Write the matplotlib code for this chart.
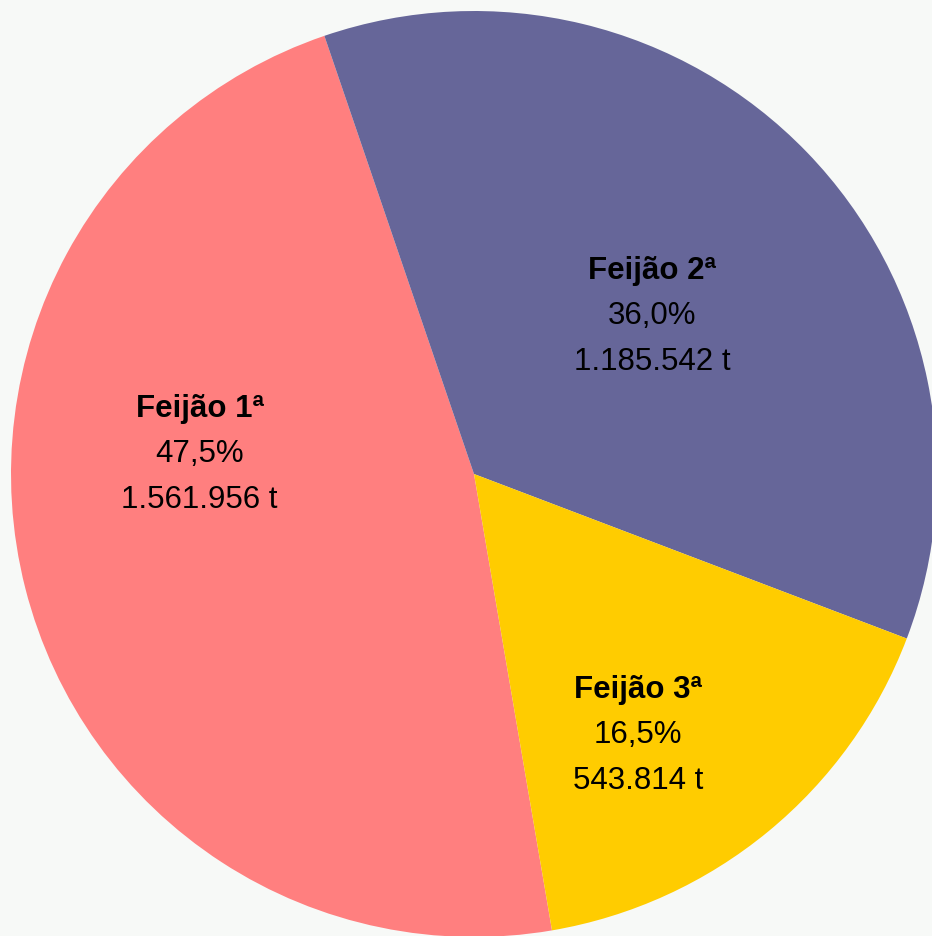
"""Feijão harvest share pie chart."""
import matplotlib
matplotlib.use("Agg")
import matplotlib.pyplot as plt

# data
labels = ["Feijão 1ª", "Feijão 2ª", "Feijão 3ª"]
tonnes = [1561956, 1185542, 543814]
percents = [47.5, 36.0, 16.5]

# style / layout
colors = ["#FF7F7F", "#666699", "#FFCC00"]
bg = "#F7F9F7"
W, H = 932, 937
cx, cy, radius = 474, H - 475, 463
start = 279.7
# label anchors: offset of first baseline from pie centre (pixels)
label_offsets = [(-274.5, 58), (178.5, 196), (164, -223)]
line_gap = 45.5

plt.rcParams["font.family"] = ["Liberation Sans", "DejaVu Sans"]

fig = plt.figure(figsize=(W / 100, H / 100), dpi=100, facecolor=bg)
ax = fig.add_axes([0, 0, 1, 1])
ax.set_facecolor(bg)
ax.set_xlim(0, W)
ax.set_ylim(0, H)
ax.axis("off")

ax.pie(tonnes, colors=colors, startangle=start, counterclock=False,
       center=(cx, cy), radius=radius, frame=True,
       wedgeprops=dict(linewidth=0))
ax.set_xlim(0, W)
ax.set_ylim(0, H)
ax.axis("off")


def fmt_tonnes(v):
    return f"{v:,}".replace(",", ".") + " t"


for name, t, p, (dx, dy) in zip(labels, tonnes, percents, label_offsets):
    x, y = cx + dx, cy + dy
    lines = [name, f"{p:.1f}%".replace(".", ","), fmt_tonnes(t)]
    for i, txt in enumerate(lines):
        ax.text(x, y - i * line_gap, txt, ha="center", va="baseline",
                fontsize=22.5, fontweight="bold" if i == 0 else "normal",
                color="black")

fig.savefig("out.png", dpi=100, facecolor=bg)
